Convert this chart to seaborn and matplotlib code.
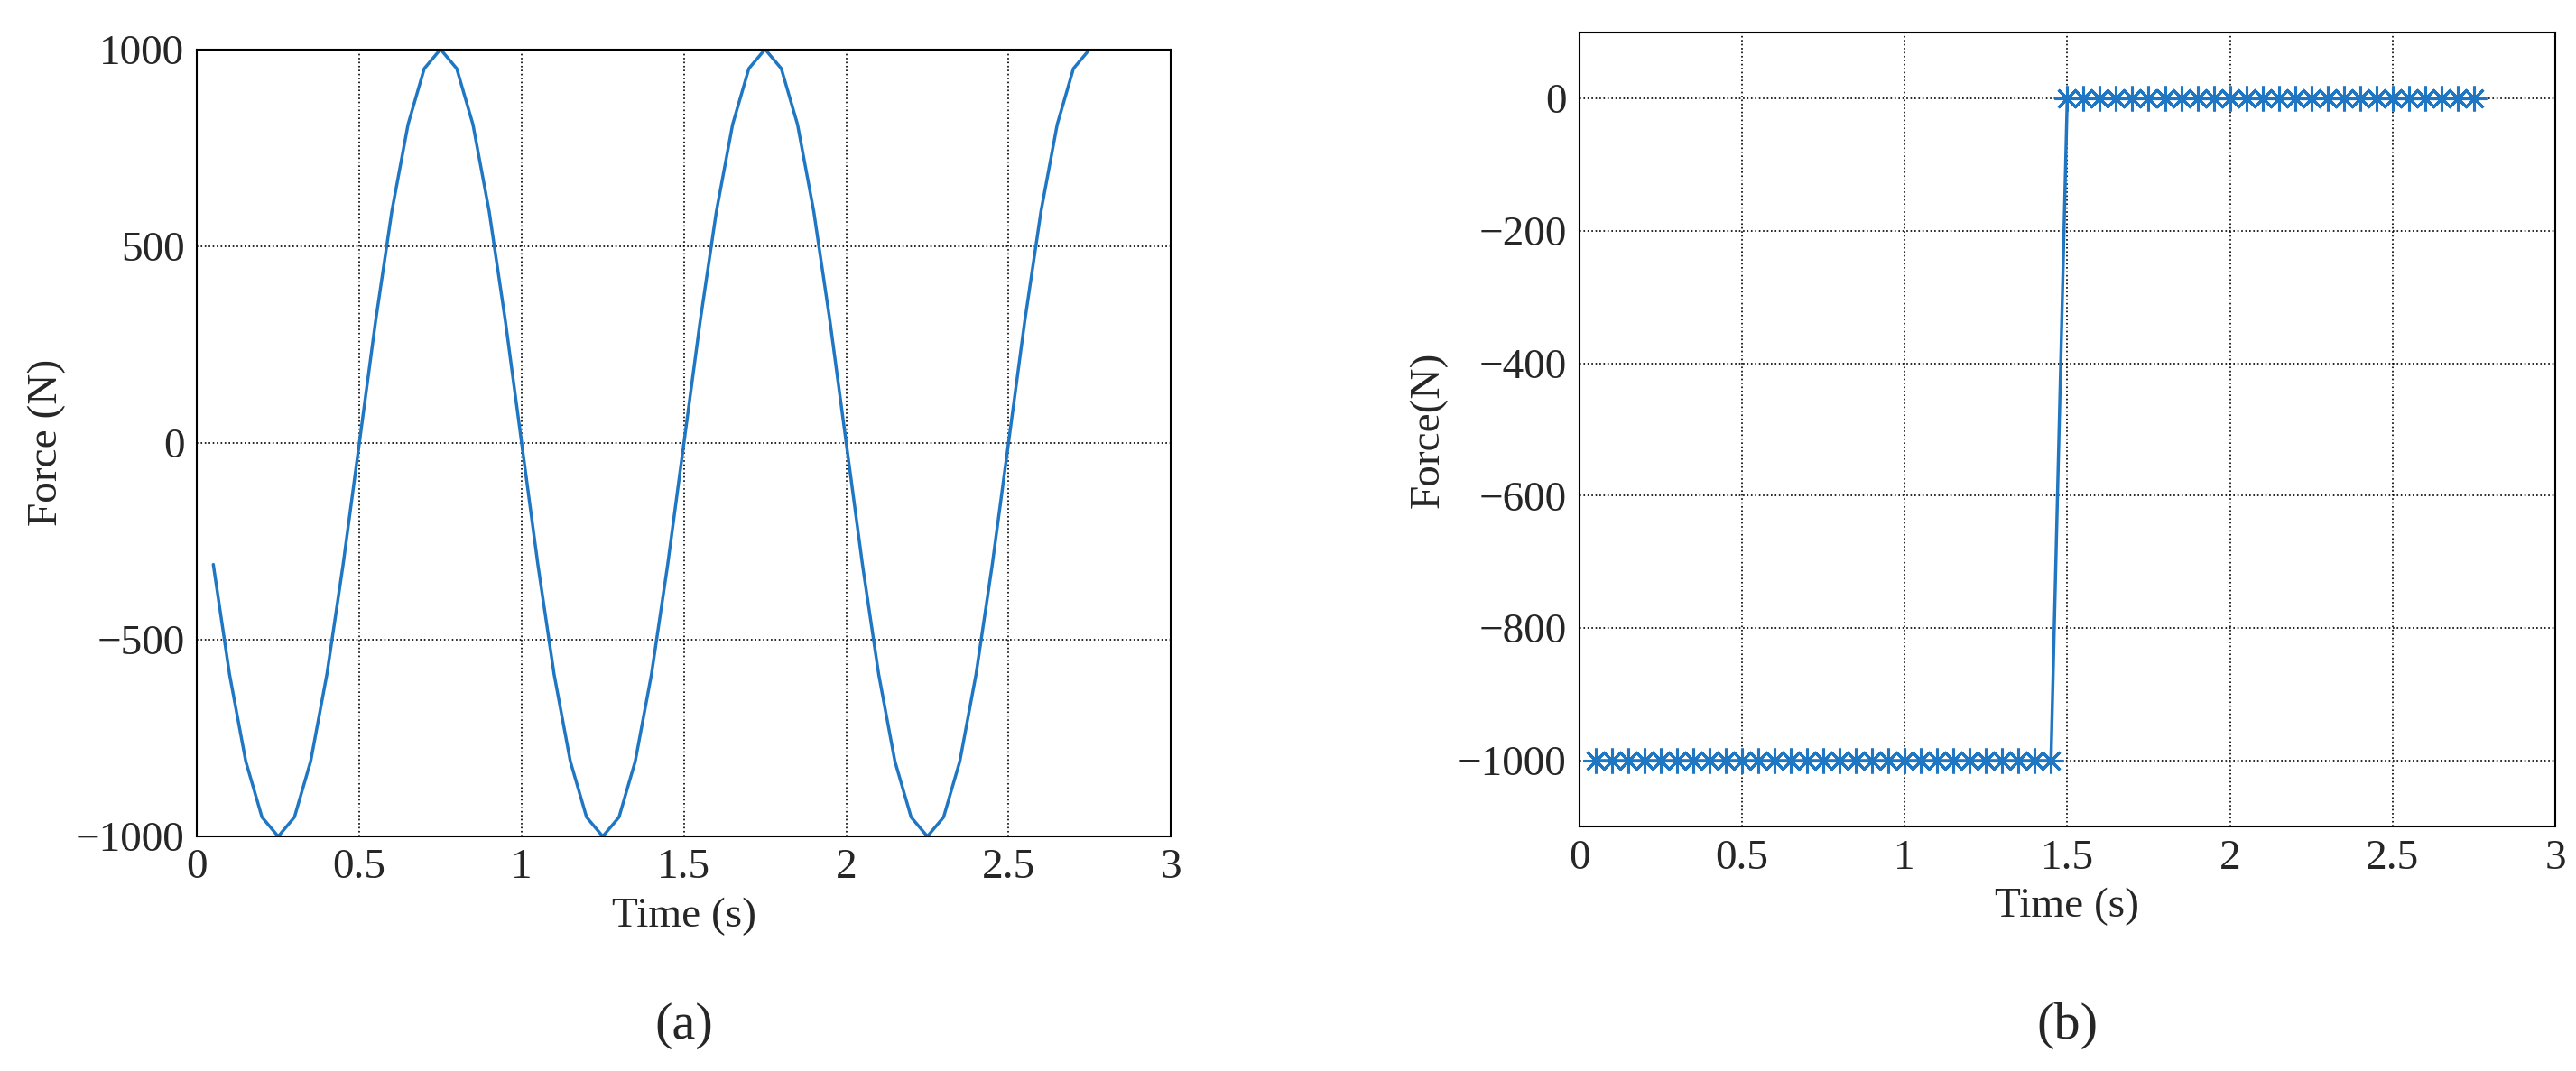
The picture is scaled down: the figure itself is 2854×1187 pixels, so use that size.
import matplotlib
matplotlib.use("Agg")
import matplotlib.pyplot as plt
import seaborn as sns
import pandas as pd

sns.set_style("white")
plt.rcParams['font.family'] = ['Liberation Serif', 'DejaVu Serif']

# Panel (a)
time_a = [0.05, 0.10, 0.15, 0.20, 0.25, 0.30, 0.35, 0.40, 0.45, 0.50,
          0.55, 0.60, 0.65, 0.70, 0.75, 0.80, 0.85, 0.90, 0.95, 1.00,
          1.05, 1.10, 1.15, 1.20, 1.25, 1.30, 1.35, 1.40, 1.45, 1.50,
          1.55, 1.60, 1.65, 1.70, 1.75, 1.80, 1.85, 1.90, 1.95, 2.00,
          2.05, 2.10, 2.15, 2.20, 2.25, 2.30, 2.35, 2.40, 2.45, 2.50,
          2.55, 2.60, 2.65, 2.70, 2.75]
force_a = [-309, -588, -809, -951, -1000, -951, -809, -588, -309, 0,
           309, 588, 809, 951, 1000, 951, 809, 588, 309, 0,
           -309, -588, -809, -951, -1000, -951, -809, -588, -309, 0,
           309, 588, 809, 951, 1000, 951, 809, 588, 309, 0,
           -309, -588, -809, -951, -1000, -951, -809, -588, -309, 0,
           309, 588, 809, 951, 1000]

# Panel (b)
time_b = [0.05, 0.10, 0.15, 0.20, 0.25, 0.30, 0.35, 0.40, 0.45, 0.50,
          0.55, 0.60, 0.65, 0.70, 0.75, 0.80, 0.85, 0.90, 0.95, 1.00,
          1.05, 1.10, 1.15, 1.20, 1.25, 1.30, 1.35, 1.40, 1.45,
          1.50, 1.55, 1.60, 1.65, 1.70, 1.75, 1.80, 1.85, 1.90, 1.95, 2.00,
          2.05, 2.10, 2.15, 2.20, 2.25, 2.30, 2.35, 2.40, 2.45, 2.50,
          2.55, 2.60, 2.65, 2.70, 2.75]
force_b = [-1000] * 29 + [0] * 26

xticks = [0, 0.5, 1, 1.5, 2, 2.5, 3]
xticklabels = ["0", "0.5", "1", "1.5", "2", "2.5", "3"]
yticks_a = [-1000, -500, 0, 500, 1000]
yticks_b = [-1000, -800, -600, -400, -200, 0]

color = "#1f77c4"
fs = 34

fig = plt.figure(figsize=(28.54, 11.87), dpi=100)
ax1 = fig.add_axes([0.0765, 0.219, 0.378, 0.735])
ax2 = fig.add_axes([0.613, 0.228, 0.379, 0.742])

dfa = pd.DataFrame({"t": time_a, "f": force_a})
dfb = pd.DataFrame({"t": time_b, "f": force_b})
sns.lineplot(data=dfa, x="t", y="f", ax=ax1, color=color, linewidth=2.5)
sns.lineplot(data=dfb, x="t", y="f", ax=ax2, color=color, linewidth=2.5,
             marker=(8, 2, 0), markersize=20, markeredgewidth=2.2,
             markeredgecolor=color)

def minus(v):
    return str(v).replace("-", "\u2212")

for ax, yt, ylim, ylab, lab in [
        (ax1, yticks_a, (-1000, 1000), "Force (N)", "(a)"),
        (ax2, yticks_b, (-1100, 100), "Force(N)", "(b)")]:
    ax.set_xlim(0, 3)
    ax.set_ylim(*ylim)
    ax.set_xticks(xticks)
    ax.set_xticklabels(xticklabels, fontsize=fs)
    ax.set_yticks(yt)
    ax.set_yticklabels([minus(v) for v in yt], fontsize=fs)
    ax.set_xlabel("Time (s)", fontsize=fs, labelpad=8)
    ax.set_ylabel(ylab, fontsize=fs, labelpad=8)
    ax.grid(True, color="black", linestyle=":", linewidth=1.2)
    ax.tick_params(direction="in", length=8, width=1.2, pad=10)
    for s in ax.spines.values():
        s.set_color("black")
        s.set_linewidth(1.5)
    bb = ax.get_position()
    fig.text((bb.x0 + bb.x1) / 2, 0.02, lab, ha="center", va="bottom",
             fontsize=42)

fig.savefig("out.png", dpi=100)
